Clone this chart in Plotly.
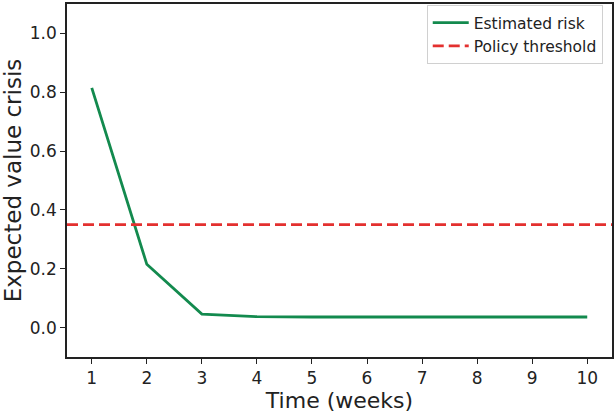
import plotly.graph_objects as go

weeks = [1, 2, 3, 4, 5, 6, 7, 8, 9, 10]
estimated_risk = [0.815, 0.215, 0.046, 0.037, 0.036, 0.036, 0.036, 0.036, 0.036, 0.036]
policy_threshold = 0.35
x_ticks = [1, 2, 3, 4, 5, 6, 7, 8, 9, 10]
y_ticks = [0.0, 0.2, 0.4, 0.6, 0.8, 1.0]

GREEN = "#138a4e"
RED = "#e3302f"
FONT = "DejaVu Sans"

fig = go.Figure()
fig.add_trace(go.Scatter(x=weeks, y=estimated_risk, mode="lines", name="Estimated risk",
                         line=dict(color=GREEN, width=2.8)))
fig.add_trace(go.Scatter(x=[0.55, 10.45], y=[policy_threshold, policy_threshold], mode="lines",
                         name="Policy threshold",
                         line=dict(color=RED, width=2.8, dash="11px,5px")))

axis_common = dict(showline=True, linecolor="#222", linewidth=1.6, mirror=True,
                   ticks="outside", ticklen=5, tickwidth=1.4, tickcolor="#222",
                   showgrid=False, zeroline=False,
                   tickfont=dict(family=FONT, size=17, color="#222"))

fig.update_layout(
    width=616, height=416,
    margin=dict(l=67, r=2, t=2, b=59),
    paper_bgcolor="white", plot_bgcolor="white",
    xaxis=dict(range=[0.55, 10.45], tickvals=x_ticks, ticktext=[str(v) for v in x_ticks],
               title=dict(text="Time (weeks)", font=dict(family=FONT, size=22, color="#222"),
                          standoff=3),
               **axis_common),
    yaxis=dict(range=[-0.1, 1.1], tickvals=y_ticks, ticktext=[f"{v:.1f}" for v in y_ticks],
               title=dict(text="Expected value crisis", font=dict(family=FONT, size=23, color="#222"),
                          standoff=4),
               **axis_common),
    legend=dict(x=0.983, y=0.997, xanchor="right", yanchor="top",
                bgcolor="rgba(255,255,255,0.8)", bordercolor="#d0d0d0", borderwidth=1,
                font=dict(family=FONT, size=15.5, color="#222"),
                itemwidth=36, tracegroupgap=0),
    showlegend=True,
)

fig.write_html("out.html")
